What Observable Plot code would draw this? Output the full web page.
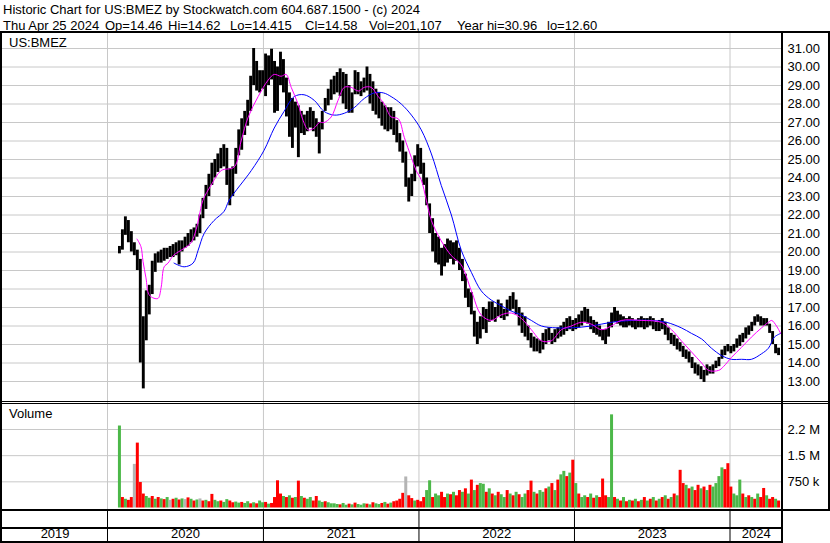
<!DOCTYPE html>
<html><head><meta charset="utf-8">
<script src="https://cdn.jsdelivr.net/npm/d3@7"></script>
<script src="https://cdn.jsdelivr.net/npm/@observablehq/plot@0.6"></script>
<style>
body{margin:0;background:#fff;}
#root{position:relative;width:830px;height:543px;overflow:hidden;font-family:"Liberation Sans",Arial,sans-serif;color:#000;background:#fff;}
.t{position:absolute;font-size:13px;white-space:pre;line-height:13px;}
.ln{position:absolute;background:#000;}
.panel{position:absolute;left:0;}
.panel svg{display:block;}
</style></head><body>
<div id="root">
  <div class="t" style="left:3px;top:3px">Historic Chart for US:BMEZ by Stockwatch.com 604.687.1500 - (c) 2024</div>
  <div id="hdr"></div>
  <div class="panel" id="price" style="top:33px"></div>
  <div class="panel" id="vol" style="top:403px"></div>
  <div class="panel" id="years" style="top:510px"></div>
  <div class="t" style="left:9px;top:36px">US:BMEZ</div>
  <div class="t" style="left:9px;top:407px">Volume</div>
  <div class="ln" style="left:0;top:31px;width:830px;height:2px"></div>
  <div class="ln" style="left:0;top:401px;width:830px;height:1px"></div>
  <div class="ln" style="left:0;top:403px;width:830px;height:1px"></div>
  <div class="ln" style="left:0;top:509px;width:830px;height:2px"></div>
  <div class="ln" style="left:0;top:527px;width:783px;height:2px"></div>
  <div class="ln" style="left:0;top:541px;width:783px;height:2px"></div>
  <div class="ln" style="left:0;top:31px;width:2px;height:512px"></div>
  <div class="ln" style="left:781px;top:31px;width:2px;height:512px"></div>
  <div class="ln" style="left:828px;top:31px;width:2px;height:480px"></div>
</div>
<script>
// ---- header text ----
const headerItems = ["Thu Apr 25 2024", "Op=14.46", "Hi=14.62", "Lo=14.415", "Cl=14.58", "Vol=201,107", "Year hi=30.96", "lo=12.60"];
const headerLeft = [3, 105, 168, 230, 305, 369, 457, 547];

// ---- weekly price data (week of 2020-01-27 onward, one value per week) ----
const firstWeekMid = "2020-01-29";
const priceHigh = [
20.3,21.2,21.9,21.7,21.1,20.5,20.1,19.6,16.5,17.9,
18.2,19.5,19.9,20.0,20.1,20.2,20.2,20.3,20.4,20.5,
20.6,20.6,20.8,21.0,21.2,21.3,21.5,22.0,22.9,23.6,
24.2,24.8,25.0,25.3,25.6,25.8,25.6,24.5,24.6,25.6,
26.6,27.2,27.6,28.2,29.5,31.0,30.3,29.8,29.8,30.7,
30.6,30.96,30.3,30.0,30.8,30.4,29.4,28.6,28.3,28.1,
27.9,27.6,27.4,27.6,27.8,27.6,27.2,27.0,27.6,28.3,
28.8,29.3,29.5,29.7,29.9,29.7,29.6,29.0,28.6,29.8,
29.7,29.2,29.4,30.0,29.6,29.2,28.8,28.6,28.1,27.9,
27.8,27.8,27.6,27.1,26.4,26.0,25.4,24.0,24.2,25.2,
25.8,25.6,24.8,24.0,22.6,21.8,21.0,20.8,20.2,20.4,
20.7,20.6,20.5,20.6,20.2,19.6,18.8,18.0,17.8,16.8,
16.2,16.5,17.0,16.9,17.3,17.3,17.0,17.4,17.2,16.9,
17.4,17.6,17.8,17.4,17.0,16.7,16.5,16.0,15.6,15.4,
15.3,15.2,15.6,15.8,15.9,15.6,15.8,15.9,16.0,16.2,
16.4,16.5,16.3,16.4,16.6,16.8,17.0,16.9,16.5,16.3,
16.2,16.0,15.8,15.8,16.2,16.7,17.0,16.8,16.6,16.5,
16.4,16.5,16.4,16.3,16.4,16.5,16.4,16.4,16.5,16.4,
16.2,16.3,16.4,16.2,15.9,15.6,15.5,15.3,15.1,14.9,
14.7,14.6,14.3,14.0,13.9,13.8,13.6,13.9,13.8,13.9,
14.1,14.3,14.7,14.9,15.0,14.9,15.0,15.3,15.5,15.6,
15.9,16.0,16.2,16.5,16.6,16.5,16.4,16.4,16.1,15.7,
15.0,14.8];
const priceLow = [
19.9,20.1,20.9,20.5,20.0,19.8,19.0,14.0,12.6,15.2,
16.6,17.7,18.9,19.4,19.4,19.5,19.6,19.7,19.7,19.8,
19.3,20.0,20.2,20.3,20.5,20.6,20.8,21.0,21.8,22.3,
23.0,23.6,24.0,24.3,24.5,24.6,23.6,22.5,23.0,24.2,
25.2,25.5,26.3,26.8,27.6,29.0,28.7,28.6,28.8,28.4,
29.0,29.3,27.5,27.6,29.0,28.6,27.3,26.2,25.6,26.7,
25.1,26.4,26.3,26.5,26.7,26.5,26.2,25.3,26.6,27.6,
27.9,28.2,28.5,28.6,28.4,28.0,27.7,27.5,27.5,28.5,
28.5,28.4,28.6,28.7,28.0,27.6,27.4,27.2,26.8,26.6,
26.5,26.6,26.3,25.9,25.4,24.8,23.5,22.7,23.0,23.8,
24.6,24.2,23.6,22.5,21.0,20.0,19.4,19.3,18.7,19.2,
19.4,19.6,19.3,19.5,19.0,18.4,17.5,17.0,16.6,15.4,
15.0,15.3,15.8,15.6,16.2,16.3,16.2,16.5,16.4,16.3,
16.5,16.8,16.9,16.6,16.0,15.6,15.4,15.2,14.8,14.6,
14.6,14.5,14.7,15.0,15.2,15.0,15.1,15.3,15.4,15.5,
15.7,15.8,15.7,15.8,15.9,16.0,16.2,16.1,15.8,15.6,
15.5,15.4,15.2,15.0,15.4,15.9,16.2,16.1,16.0,15.9,
15.9,16.0,15.9,15.8,15.9,15.9,15.8,15.9,16.0,15.8,
15.7,15.7,15.8,15.5,15.2,15.0,14.9,14.7,14.6,14.3,
14.2,14.0,13.7,13.4,13.3,13.1,12.95,13.3,13.4,13.4,
13.7,13.8,14.2,14.4,14.6,14.5,14.6,14.8,14.9,15.1,
15.3,15.5,15.7,16.0,16.2,16.0,16.0,16.0,15.6,15.0,
14.5,14.4];

// ---- weekly volume (thousands of shares) and bar colour (g up, r down, x unchanged) ----
const volumeK = [
2350,300,250,220,300,1250,1860,730,400,330,
280,330,250,300,260,240,300,220,250,280,
230,260,240,290,250,200,230,260,200,220,
180,390,220,180,200,160,240,200,150,170,
140,160,130,180,120,150,120,200,150,160,
110,130,300,780,400,330,300,350,280,300,
770,330,280,250,300,200,330,200,160,180,
150,120,120,100,90,130,80,110,90,140,
100,80,120,110,90,150,120,100,130,160,
110,140,180,200,250,420,890,350,270,200,
220,180,300,500,780,300,400,350,450,300,
400,380,450,350,500,450,550,400,800,500,
650,700,680,450,550,400,350,450,380,300,
500,400,350,450,380,300,400,500,770,450,
400,500,450,550,600,700,500,800,950,1050,
900,1000,1370,700,400,300,350,300,400,280,
350,300,830,350,300,2670,300,250,200,300,
180,220,200,250,180,220,300,200,250,300,
200,250,300,350,250,300,400,350,1080,700,
650,550,600,500,650,550,600,500,650,600,
700,900,1150,1100,1270,600,400,350,800,400,
300,350,300,250,400,300,560,350,250,300,
250,200];
const volumeColor = "grgrrxrrrg"+"grgrgrgxrg"+"rgxrgrgxrg"+"rrggrggrrg"+"grggrgrggr"+"grrrrgrgrg"+"rgrggrrggr"+"ggggrggrgr"+"gggrgrggrg"+"rgrrrrxrrg"+"rrrggrggrr"+"grgrrgrgrg"+"rggrgrgrgg"+"rgrgrggrrg"+"rggrgrgrgg"+"rgrgrggrgr"+"grrrggrgrg"+"rgrgrgrgrg"+"rgrgrgrgrr"+"grgrrgrgrg"+"gggrrrgggr"+"grgrgrrgrr"+"gr";

// ---- moving averages (position in weeks from first week, value) ----
const pinkWeek = [5.9,7.2,7.9,8.9,9.9,11.6,13,14,15,16.3,18,19.7,21.7,24,25.7,26.7,28,30.7,34.1,38.5,40.8,43.2,46.5,49.9,51.9,54.2,55.9,57.6,59.9,61.6,63.3,65.3,67,68.6,71,73.3,75.4,77.7,80.1,82.1,84.4,86.8,88.8,91.1,93.5,95.5,97.9,99.5,101.2,102.9,104.6,107.9,111.3,114.6,118,121.3,124.7,128,131.4,134.8,138.1,141.5,144.8,148.2,151.5,154.9,158.2,161.6,164.9,168.3,175,181.7,185.1,188.4,191.8,195.2,197.5,200.9,202.5,205.2,208.6,211.9,215.3,217.6,218.7,220.3,221.7];
const pinkValue = [20.7,20.3,19.5,18.6,17.7,17.5,17.5,18.1,19.2,19.4,19.8,20.0,20.2,20.5,21.2,21.9,22.8,23.6,24.4,24.6,26.0,27.3,28.4,29.3,29.6,29.5,29.6,28.9,28.0,27.1,26.6,26.7,27.0,27.0,27.3,28.2,28.9,28.9,28.7,28.9,28.9,28.4,28.0,27.3,27.2,26.2,25.1,24.4,23.9,22.8,21.7,20.6,19.8,19.3,17.9,16.6,16.3,16.6,16.7,16.4,15.8,15.2,15.2,15.8,16.0,16.2,16.1,15.8,16.0,16.3,16.3,16.2,15.8,15.2,14.6,14.0,13.6,13.6,13.8,14.3,14.85,15.4,15.9,16.2,16.3,16.0,15.6];
const blueWeek = [18.3,21.7,24.7,26.4,28.4,31.7,35.1,36.8,44.2,48.5,51.9,55.2,58.6,61.9,65.3,68.6,72,75.4,78.7,82.1,85.4,88.5,91.1,94.5,97.9,101.2,104.6,107.9,111.3,114.6,118,121.3,124.7,128,131.4,134.8,138.1,141.5,146.5,151.5,158.2,164.9,171.6,178.4,183.4,188.4,191.8,195.2,198.5,201.9,205.2,208.6,211.9,215.3,217.6,219.6,221.7];
const blueValue = [19.4,19.2,19.4,20.1,21.0,21.7,22.2,22.8,24.4,25.5,26.7,27.6,28.4,28.5,28.2,27.6,27.4,27.5,27.8,28.3,28.6,28.6,28.4,28.0,27.4,26.6,25.3,23.6,22.0,20.1,18.9,17.9,17.4,17.1,16.8,16.6,16.3,16.0,15.9,15.9,16.0,16.2,16.3,16.3,16.2,15.9,15.6,15.3,14.8,14.4,14.2,14.2,14.2,14.5,14.8,15.4,15.6];

// ---- axes ----
const priceTicks = [13,14,15,16,17,18,19,20,21,22,23,24,25,26,27,28,29,30,31];
const volumeTicks = [750000, 1500000, 2250000];
const volumeTickLabels = ["750 k", "1.5 M", "2.2 M"];
const yearLabels = [2019, 2020, 2021, 2022, 2023, 2024];

// ---- build ----
const hdr = document.getElementById("hdr");
headerItems.forEach((s, i) => {
  const d = document.createElement("div");
  d.className = "t"; d.style.left = headerLeft[i] + "px"; d.style.top = "19px"; d.textContent = s;
  hdr.appendChild(d);
});

const start = new Date(firstWeekMid + "T00:00:00Z");
const weeks = priceHigh.map((h, i) => ({date: d3.utcDay.offset(start, 7 * i), high: h, low: priceLow[i]}));
const vols = volumeK.map((v, i) => ({date: d3.utcDay.offset(start, 7 * i), vol: v * 1000,
  color: volumeColor[i] === "g" ? "#4cb849" : volumeColor[i] === "r" ? "#ff0000" : "#b4b4b4"}));
const wdate = w => new Date(start.getTime() + w * 7 * 864e5);
const pink = pinkWeek.map((w, i) => ({date: wdate(w), v: pinkValue[i]}));
const blue = blueWeek.map((w, i) => ({date: wdate(w), v: blueValue[i]}));
const yearStarts = yearLabels.slice(1).map(y => new Date(Date.UTC(y, 0, 1)));

const xScale = {type: "utc", domain: [new Date(Date.UTC(2020,0,1)), new Date(Date.UTC(2024,0,1))], range: [107, 729.5]};
const grid = {stroke: "#c8c8c8", strokeOpacity: 1};

const pricePlot = Plot.plot({
  width: 830, height: 370, marginLeft: 2, marginRight: 48, marginTop: 0, marginBottom: 0,
  style: {background: "transparent", fontFamily: "Liberation Sans, Arial, sans-serif", fontSize: "13px", overflow: "visible"},
  x: {...xScale, axis: null},
  y: {domain: [13, 31], range: [348, 15], axis: null},
  marks: [
    Plot.gridY(priceTicks, grid),
    Plot.gridX(yearStarts, grid),
    Plot.ruleX(weeks, {x: "date", y1: "low", y2: "high", stroke: "#000", strokeWidth: 2.9}),
    Plot.line(blue, {x: "date", y: "v", stroke: "#0000ff", strokeWidth: 1, curve: "catmull-rom"}),
    Plot.line(pink, {x: "date", y: "v", stroke: "#ff00ff", strokeWidth: 1, curve: "catmull-rom"}),
    Plot.axisY(priceTicks, {anchor: "right", label: null, tickSize: 0, tickPadding: 5, tickFormat: d => d.toFixed(2), fontSize: 13, fill: "#000"})
  ]
});
document.getElementById("price").appendChild(pricePlot);

const volPlot = Plot.plot({
  width: 830, height: 107, marginLeft: 2, marginRight: 48, marginTop: 0, marginBottom: 0,
  style: {background: "transparent", fontFamily: "Liberation Sans, Arial, sans-serif", fontSize: "13px", overflow: "visible"},
  x: {...xScale, axis: null},
  y: {domain: [0, 2250000], range: [104.5, 26], axis: null},
  color: {type: "identity"},
  marks: [
    Plot.gridY(volumeTicks, grid),
    Plot.gridX(yearStarts, grid),
    Plot.ruleX(vols, {x: "date", y1: 0, y2: "vol", stroke: "color", strokeWidth: 3}),
    Plot.axisY(volumeTicks, {anchor: "right", label: null, tickSize: 0, tickPadding: 5, tickFormat: (d, i) => volumeTickLabels[i], fontSize: 13, fill: "#000"})
  ]
});
document.getElementById("vol").appendChild(volPlot);

const left = new Date(Date.UTC(2019, 3, 30)), right = new Date(Date.UTC(2024, 4, 3));
const yearMid = yearLabels.map(y => {
  const a = Math.max(left, Date.UTC(y, 0, 1)), b = Math.min(right, Date.UTC(y + 1, 0, 1));
  return {date: new Date((a + b) / 2), label: String(y)};
});
const yearPlot = Plot.plot({
  width: 830, height: 33, marginLeft: 2, marginRight: 48, marginTop: 0, marginBottom: 0,
  style: {background: "transparent", fontFamily: "Liberation Sans, Arial, sans-serif", fontSize: "13px"},
  x: {...xScale, axis: null},
  marks: [
    Plot.ruleX(yearStarts, {stroke: "#000", strokeWidth: 1}),
    Plot.text(yearMid, {x: "date", text: "label", frameAnchor: "bottom", dy: -6, fontSize: 13, fill: "#000"})
  ]
});
document.getElementById("years").appendChild(yearPlot);
</script>
</body></html>
